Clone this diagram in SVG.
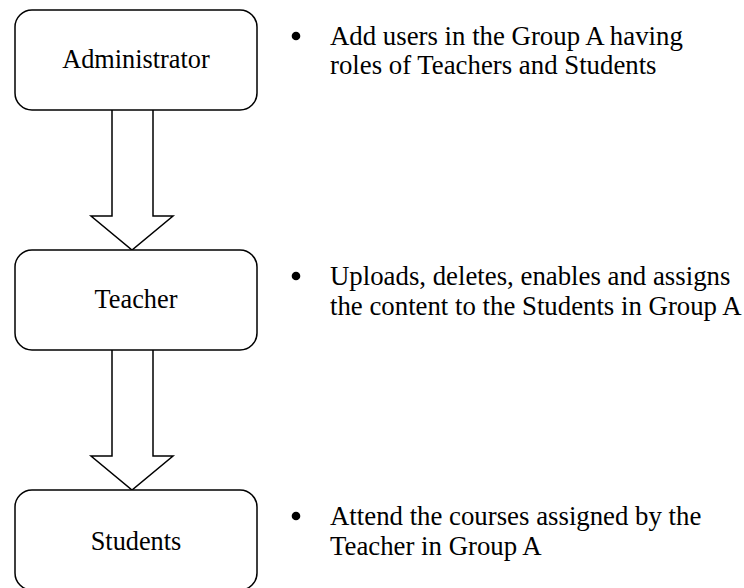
<svg xmlns="http://www.w3.org/2000/svg" width="744" height="588" viewBox="0 0 744 588">
<style>
.box{fill:#fff;stroke:#000;stroke-width:1.5}
.arr{fill:#fff;stroke:#000;stroke-width:1.5;stroke-linejoin:miter}
.lbl{font-family:"Liberation Serif","Times New Roman",serif;font-size:26.3px;fill:#000;text-anchor:middle}
.txt{font-family:"Liberation Serif","Times New Roman",serif;font-size:26.8px;fill:#000}
</style>
<rect width="744" height="588" fill="#fff"/>
<g id="connectors">
<path class="arr" d="M112,110 V216 H91 L132,250 L173,216 H153 V110"/>
<path class="arr" d="M112,350 V456 H91 L132,490 L173,456 H153 V350"/>
</g>
<g id="administrator">
<rect class="box" x="15" y="10" width="242" height="100" rx="17"/>
<text class="lbl" x="136" y="68">Administrator</text>
</g>
<g id="teacher">
<rect class="box" x="15" y="250" width="242" height="100" rx="17"/>
<text class="lbl" x="136" y="308">Teacher</text>
</g>
<g id="students">
<rect class="box" x="15" y="490" width="242" height="100" rx="17"/>
<text class="lbl" x="136" y="550">Students</text>
</g>
<g id="note-administrator">
<circle cx="296" cy="36" r="4.3"/>
<text class="txt" x="330" y="45">Add users in the Group A having</text>
<text class="txt" x="330" y="74">roles of Teachers and Students</text>
</g>
<g id="note-teacher">
<circle cx="296" cy="276" r="4.3"/>
<text class="txt" x="330" y="285">Uploads, deletes, enables and assigns</text>
<text class="txt" x="330" y="315">the content to the Students in Group A</text>
</g>
<g id="note-students">
<circle cx="296" cy="516" r="4.3"/>
<text class="txt" x="330" y="525">Attend the courses assigned by the</text>
<text class="txt" x="330" y="555">Teacher in Group A</text>
</g>
</svg>
